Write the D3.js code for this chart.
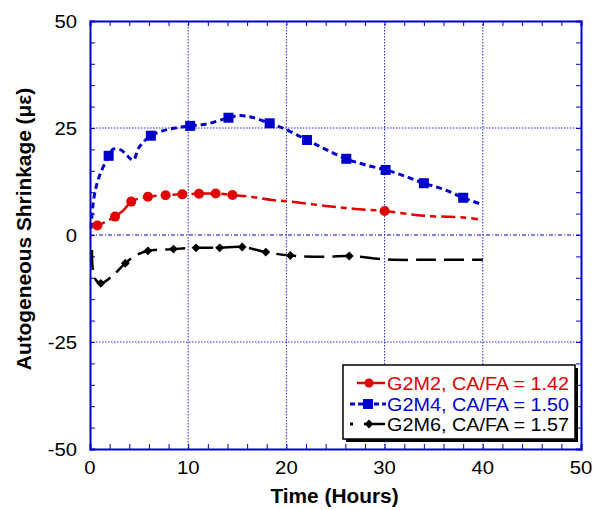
<!DOCTYPE html>
<html><head><meta charset="utf-8">
<script src="https://cdn.jsdelivr.net/npm/d3@7"></script>
<style>body{margin:0;background:#fff}svg{display:block}text{font-family:"Liberation Sans",Arial,sans-serif}</style>
</head><body>
<svg id="c" width="593" height="510"></svg>
<script>
// ---- data ----
const xTicks = [0, 10, 20, 30, 40, 50];
const yTicks = [-50, -25, 0, 25, 50];
const seriesNames = ["G2M2, CA/FA = 1.42", "G2M4, CA/FA = 1.50", "G2M6, CA/FA = 1.57"];

const g2m2Line = [[0.2,2.7],[0.75,2.2],[1.5,3.0],[2.55,4.3],[3.5,6.0],[4.2,7.8],[5.9,8.95],[7.7,9.3],[9.4,9.5],[11.1,9.65],[12.8,9.7],[14.5,9.35],[16.5,8.9],[18.5,8.2],[20.4,7.8],[24,6.8],[27,6.1],[30,5.6],[34,4.5],[38,4.1],[39.5,3.7]];
const g2m2Marks = [[0.75,2.2],[2.55,4.3],[4.2,7.8],[5.9,8.95],[7.7,9.3],[9.4,9.5],[11.1,9.65],[12.8,9.7],[14.5,9.35],[30,5.6]];

const g2m4Line = [[0.1,1.5],[0.3,7],[0.6,11],[1.0,14],[1.9,18.5],[2.4,20.1],[3.2,19.8],[3.8,18.5],[4.4,17.5],[5.0,20.5],[6.2,23.2],[8,24.7],[10.2,25.5],[12,26],[14.1,27.4],[15.3,27.9],[16.5,27.5],[18.3,26.1],[19.8,24.8],[22.1,22.2],[24,20],[26.1,17.8],[28,16.4],[30.1,15.2],[32,13.8],[34,12.1],[36,10.7],[38,8.7],[39.7,7.3]];
const g2m4Marks = [[1.9,18.5],[6.2,23.2],[10.2,25.5],[14.1,27.4],[18.3,26.1],[22.1,22.2],[26.1,17.8],[30.1,15.2],[34.0,12.1],[38.0,8.7]];

const g2m6Line = [[0.2,-3.5],[0.3,-8.2],[0.6,-10.5],[1.1,-11.3],[2.2,-9.7],[3.6,-6.6],[4.5,-5.0],[5.9,-3.7],[8.5,-3.3],[10.8,-3.0],[13.2,-3.0],[15.5,-2.8],[17.9,-4.0],[20.4,-4.8],[24,-5.1],[26.4,-4.9],[30,-5.7],[35,-5.8],[40,-5.8]];
const g2m6Marks = [[1.1,-11.3],[3.6,-6.6],[5.9,-3.7],[8.5,-3.3],[10.8,-3.0],[13.2,-3.0],[15.5,-2.8],[17.9,-4.0],[20.4,-4.8],[26.4,-4.9]];

// ---- layout ----
const svg = d3.select("#c");
const L = 90, R = 581, T = 21, B = 449;
const x = d3.scaleLinear().domain([0, 50]).range([L, R]);
const y = d3.scaleLinear().domain([-50, 50]).range([B, T]);
const BLUE = "#0000cc", RED = "#e00000";
const SX = 1.07;

function stext(px, py, str, opts) {
  const g = svg.append("g").attr("transform", `translate(${px},${py}) rotate(${opts.rot||0}) scale(${SX},1)`);
  return g.append("text").attr("x", 0).attr("y", 0)
    .attr("text-anchor", opts.anchor || "start")
    .attr("font-size", opts.size || 18)
    .attr("font-weight", opts.weight || "normal")
    .attr("fill", opts.fill || "#000")
    .text(str);
}

// grid
const gridX = [10, 20, 30, 40];
svg.append("g").selectAll("line").data(gridX).join("line")
  .attr("x1", d => x(d)).attr("x2", d => x(d)).attr("y1", T).attr("y2", B)
  .attr("stroke", BLUE).attr("stroke-width", 1).attr("stroke-dasharray", "1.5,1.5").attr("opacity", 0.85);
svg.append("g").selectAll("line").data([25, -25]).join("line")
  .attr("x1", L).attr("x2", R).attr("y1", d => y(d)).attr("y2", d => y(d))
  .attr("stroke", BLUE).attr("stroke-width", 1).attr("stroke-dasharray", "1.5,1.5").attr("opacity", 0.85);
svg.append("line").attr("x1", L).attr("x2", R).attr("y1", y(0)).attr("y2", y(0))
  .attr("stroke", BLUE).attr("stroke-width", 1).attr("stroke-dasharray", "4,2,1,2");

// axes (inward ticks)
const xMinor = d3.range(0, 51, 2);
const yMinor = d3.range(-50, 51, 5);
const axB = d3.axisBottom(x).tickValues(xMinor).tickSize(-5).tickFormat("");
const axT = d3.axisTop(x).tickValues(xMinor).tickSize(-5).tickFormat("");
const axLft = d3.axisLeft(y).tickValues(yMinor).tickSize(-5).tickFormat("");
const axRgt = d3.axisRight(y).tickValues(yMinor).tickSize(-5).tickFormat("");
[[axB, `translate(0,${B})`], [axT, `translate(0,${T})`], [axLft, `translate(${L},0)`], [axRgt, `translate(${R},0)`]].forEach(([a, tr]) => {
  const g = svg.append("g").attr("transform", tr).call(a);
  g.selectAll("path").attr("stroke", BLUE).attr("stroke-width", 2);
  g.selectAll("line").attr("stroke", BLUE).attr("stroke-width", 1);
});

// tick labels
xTicks.forEach(v => stext(x(v), 474, String(v), {anchor: "middle", size: 19}));
yTicks.forEach(v => stext(77, y(v) + 7, String(v), {anchor: "end", size: 19}));

// titles
stext((L + R) / 2 - 1, 503, "Time (Hours)", {anchor: "middle", size: 19.5, weight: "bold"});
stext(31, 229, "Autogeneous Shrinkage (\u03bc\u03b5)", {anchor: "middle", size: 19.5, weight: "bold", rot: -90});

// lines
const line = d3.line().x(d => x(d[0])).y(d => y(d[1])).curve(d3.curveCatmullRom.alpha(0.5));
svg.append("path").datum(g2m2Line).attr("d", line).attr("fill", "none")
  .attr("stroke", RED).attr("stroke-width", 2.5).attr("stroke-dasharray", "14,5,6,5");
svg.append("path").datum(g2m4Line).attr("d", line).attr("fill", "none")
  .attr("stroke", BLUE).attr("stroke-width", 3).attr("stroke-dasharray", "6,4");
svg.append("path").datum(g2m6Line).attr("d", line).attr("fill", "none")
  .attr("stroke", "#000").attr("stroke-width", 2.5).attr("stroke-dasharray", "20,8");

// markers
svg.append("g").selectAll("circle").data(g2m2Marks).join("circle")
  .attr("cx", d => x(d[0])).attr("cy", d => y(d[1])).attr("r", 5).attr("fill", RED);
svg.append("g").selectAll("rect").data(g2m4Marks).join("rect")
  .attr("x", d => x(d[0]) - 5).attr("y", d => y(d[1]) - 5).attr("width", 10).attr("height", 10).attr("fill", BLUE);
const diamond = d3.symbol().type(d3.symbolDiamond2).size(50);
svg.append("g").selectAll("path").data(g2m6Marks).join("path")
  .attr("transform", d => `translate(${x(d[0])},${y(d[1])})`).attr("d", diamond).attr("fill", "#000");

// legend
const lx = 343, ly = 365, lw = 232, lh = 74;
svg.append("rect").attr("x", lx + 3).attr("y", ly + 3).attr("width", lw).attr("height", lh).attr("fill", "#000");
svg.append("rect").attr("x", lx).attr("y", ly).attr("width", lw).attr("height", lh)
  .attr("fill", "#fff").attr("stroke", "#000").attr("stroke-width", 1.5);
const rows = [383, 404, 424];
const colors = [RED, BLUE, "#000"];
// red
svg.append("line").attr("x1", 357).attr("x2", 385).attr("y1", rows[0]).attr("y2", rows[0]).attr("stroke", RED).attr("stroke-width", 2.5);
svg.append("circle").attr("cx", 369).attr("cy", rows[0]).attr("r", 4.5).attr("fill", RED);
// blue
svg.append("line").attr("x1", 350).attr("x2", 386).attr("y1", rows[1]).attr("y2", rows[1]).attr("stroke", BLUE).attr("stroke-width", 3).attr("stroke-dasharray", "5,3");
svg.append("rect").attr("x", 363).attr("y", rows[1] - 5).attr("width", 10).attr("height", 10).attr("fill", BLUE);
// black
svg.append("rect").attr("x", 350).attr("y", rows[2] - 1.5).attr("width", 3).attr("height", 3).attr("fill", "#000");
svg.append("line").attr("x1", 364).attr("x2", 385).attr("y1", rows[2]).attr("y2", rows[2]).attr("stroke", "#000").attr("stroke-width", 2.5);
svg.append("path").attr("transform", `translate(369,${rows[2]})`).attr("d", diamond).attr("fill", "#000");
seriesNames.forEach((s, i) => stext(569, rows[i] + 7, s, {anchor: "end", size: 18.5, fill: colors[i]}));
</script>
</body></html>
